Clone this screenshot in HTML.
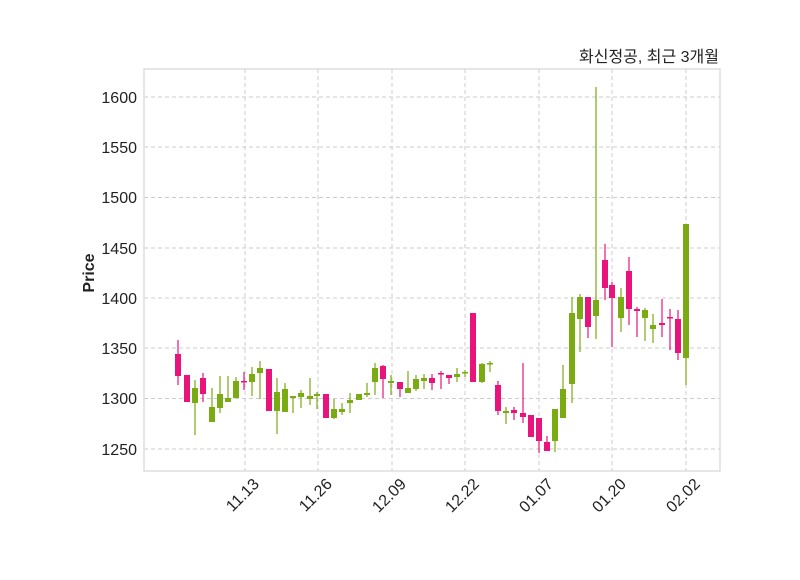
<!DOCTYPE html>
<html><head><meta charset="utf-8"><style>
html,body{margin:0;padding:0;background:#fff;}
svg text{font-family:"Liberation Sans","Noto Sans CJK KR",sans-serif;fill:#222;}
</style></head><body>
<svg width="800" height="575" viewBox="0 0 800 575" xmlns="http://www.w3.org/2000/svg">
<rect width="800" height="575" fill="#fff"/>
<g stroke="#cccccc" stroke-width="1" stroke-dasharray="4,3">
<line x1="144" x2="720" y1="97" y2="97"/><line x1="144" x2="720" y1="147" y2="147"/>
<line x1="144" x2="720" y1="197.5" y2="197.5"/><line x1="144" x2="720" y1="248" y2="248"/>
<line x1="144" x2="720" y1="298" y2="298"/><line x1="144" x2="720" y1="348" y2="348"/>
<line x1="144" x2="720" y1="398.5" y2="398.5"/><line x1="144" x2="720" y1="449" y2="449"/>
<line y1="69" y2="471" x1="245" x2="245"/><line y1="69" y2="471" x1="318" x2="318"/>
<line y1="69" y2="471" x1="392" x2="392"/><line y1="69" y2="471" x1="465" x2="465"/>
<line y1="69" y2="471" x1="539" x2="539"/><line y1="69" y2="471" x1="612" x2="612"/>
<line y1="69" y2="471" x1="686" x2="686"/>
</g>
<rect x="144" y="69" width="576" height="402" fill="none" stroke="#dddddd" stroke-width="1.5"/>
<g font-size="16" text-anchor="end">
<text x="137" y="103">1600</text><text x="137" y="153">1550</text><text x="137" y="203">1500</text>
<text x="137" y="254">1450</text><text x="137" y="304">1400</text><text x="137" y="354">1350</text>
<text x="137" y="404">1300</text><text x="137" y="455">1250</text>
</g>
<g font-size="16" text-anchor="end">
<text transform="translate(260,485) rotate(-45)">11.13</text>
<text transform="translate(333,485) rotate(-45)">11.26</text>
<text transform="translate(407,485) rotate(-45)">12.09</text>
<text transform="translate(480,485) rotate(-45)">12.22</text>
<text transform="translate(554,485) rotate(-45)">01.07</text>
<text transform="translate(627,485) rotate(-45)">01.20</text>
<text transform="translate(701,485) rotate(-45)">02.02</text>
</g>
<text transform="translate(94,273) rotate(-90)" font-size="16" font-weight="bold" text-anchor="middle">Price</text>
<text x="719" y="62" font-size="16" text-anchor="end">화신정공, 최근 3개월</text>
<g stroke="#e8137b" stroke-width="1.2">
<line x1="178" x2="178" y1="340" y2="385"/>
<line x1="187" x2="187" y1="375" y2="402"/>
<line x1="203" x2="203" y1="373" y2="402"/>
<line x1="244" x2="244" y1="372" y2="390"/>
<line x1="269" x2="269" y1="369" y2="411"/>
<line x1="326" x2="326" y1="394" y2="418"/>
<line x1="383" x2="383" y1="365" y2="398"/>
<line x1="400" x2="400" y1="382" y2="397"/>
<line x1="432" x2="432" y1="374" y2="390"/>
<line x1="441" x2="441" y1="371" y2="389"/>
<line x1="449" x2="449" y1="375" y2="384"/>
<line x1="473" x2="473" y1="313" y2="382"/>
<line x1="498" x2="498" y1="381" y2="415"/>
<line x1="514" x2="514" y1="407" y2="420"/>
<line x1="523" x2="523" y1="363" y2="423"/>
<line x1="531" x2="531" y1="415" y2="437"/>
<line x1="539" x2="539" y1="418" y2="453"/>
<line x1="547" x2="547" y1="436" y2="451"/>
<line x1="588" x2="588" y1="297" y2="338"/>
<line x1="605" x2="605" y1="244" y2="300"/>
<line x1="612" x2="612" y1="282" y2="347"/>
<line x1="629" x2="629" y1="257" y2="325"/>
<line x1="637" x2="637" y1="307" y2="337"/>
<line x1="662" x2="662" y1="299" y2="337"/>
<line x1="670" x2="670" y1="309" y2="350"/>
<line x1="678" x2="678" y1="310" y2="360"/>
</g>
<g fill="#e8137b">
<rect x="175" y="354" width="6" height="22"/>
<rect x="184" y="375" width="6" height="27"/>
<rect x="200" y="378" width="6" height="16"/>
<rect x="241" y="381" width="6" height="1.5"/>
<rect x="266" y="369" width="6" height="42"/>
<rect x="323" y="394" width="6" height="24"/>
<rect x="380" y="366" width="6" height="13"/>
<rect x="397" y="382" width="6" height="7"/>
<rect x="429" y="378" width="6" height="5"/>
<rect x="438" y="373" width="6" height="1.5"/>
<rect x="446" y="375" width="6" height="3"/>
<rect x="470" y="313" width="6" height="69"/>
<rect x="495" y="385" width="6" height="26"/>
<rect x="511" y="410" width="6" height="3"/>
<rect x="520" y="413" width="6" height="4"/>
<rect x="528" y="415" width="6" height="22"/>
<rect x="536" y="418" width="6" height="23"/>
<rect x="544" y="442" width="6" height="9"/>
<rect x="585" y="297" width="6" height="30"/>
<rect x="602" y="260" width="6" height="28"/>
<rect x="609" y="285" width="6" height="13"/>
<rect x="626" y="271" width="6" height="38"/>
<rect x="634" y="309" width="6" height="2"/>
<rect x="659" y="323" width="6" height="2"/>
<rect x="667" y="317" width="6" height="1.5"/>
<rect x="675" y="319" width="6" height="34"/>
</g>
<g stroke="#7aab12" stroke-width="1.2">
<line x1="195" x2="195" y1="380" y2="435"/>
<line x1="212" x2="212" y1="388" y2="422"/>
<line x1="220" x2="220" y1="376" y2="413"/>
<line x1="228" x2="228" y1="376" y2="402"/>
<line x1="236" x2="236" y1="377" y2="398"/>
<line x1="252" x2="252" y1="367" y2="396"/>
<line x1="260" x2="260" y1="361" y2="399"/>
<line x1="277" x2="277" y1="378" y2="434"/>
<line x1="285" x2="285" y1="383" y2="412"/>
<line x1="293" x2="293" y1="396" y2="413"/>
<line x1="301" x2="301" y1="390" y2="408"/>
<line x1="310" x2="310" y1="378" y2="405"/>
<line x1="317" x2="317" y1="392" y2="409"/>
<line x1="334" x2="334" y1="399" y2="419"/>
<line x1="342" x2="342" y1="403" y2="415"/>
<line x1="350" x2="350" y1="393" y2="413"/>
<line x1="359" x2="359" y1="394" y2="400"/>
<line x1="367" x2="367" y1="383" y2="397"/>
<line x1="375" x2="375" y1="363" y2="395"/>
<line x1="391" x2="391" y1="375" y2="395"/>
<line x1="408" x2="408" y1="371" y2="393"/>
<line x1="416" x2="416" y1="375" y2="391"/>
<line x1="424" x2="424" y1="374" y2="389"/>
<line x1="457" x2="457" y1="368" y2="382"/>
<line x1="465" x2="465" y1="370" y2="377"/>
<line x1="482" x2="482" y1="363" y2="383"/>
<line x1="490" x2="490" y1="361" y2="372"/>
<line x1="506" x2="506" y1="407" y2="424"/>
<line x1="555" x2="555" y1="409" y2="452"/>
<line x1="563" x2="563" y1="365" y2="418"/>
<line x1="572" x2="572" y1="297" y2="403"/>
<line x1="580" x2="580" y1="294" y2="352"/>
<line x1="596" x2="596" y1="87" y2="339"/>
<line x1="621" x2="621" y1="288" y2="332"/>
<line x1="645" x2="645" y1="308" y2="341"/>
<line x1="653" x2="653" y1="314" y2="343"/>
<line x1="686" x2="686" y1="224" y2="385"/>
</g>
<g fill="#7aab12">
<rect x="192" y="388" width="6" height="15"/>
<rect x="209" y="407" width="6" height="15"/>
<rect x="217" y="394" width="6" height="14"/>
<rect x="225" y="398" width="6" height="4"/>
<rect x="233" y="381" width="6" height="17"/>
<rect x="249" y="374" width="6" height="8"/>
<rect x="257" y="368" width="6" height="5"/>
<rect x="274" y="392" width="6" height="19"/>
<rect x="282" y="389" width="6" height="23"/>
<rect x="290" y="396" width="6" height="2"/>
<rect x="298" y="393" width="6" height="4"/>
<rect x="307" y="396" width="6" height="3"/>
<rect x="314" y="394" width="6" height="2"/>
<rect x="331" y="409" width="6" height="9"/>
<rect x="339" y="409" width="6" height="3"/>
<rect x="347" y="400" width="6" height="3"/>
<rect x="356" y="394" width="6" height="6"/>
<rect x="364" y="393" width="6" height="2"/>
<rect x="372" y="368" width="6" height="14"/>
<rect x="388" y="381" width="6" height="2"/>
<rect x="405" y="388" width="6" height="5"/>
<rect x="413" y="379" width="6" height="10"/>
<rect x="421" y="378" width="6" height="3"/>
<rect x="454" y="374" width="6" height="3"/>
<rect x="462" y="372" width="6" height="1.5"/>
<rect x="479" y="364" width="6" height="18"/>
<rect x="487" y="363" width="6" height="1.5"/>
<rect x="503" y="411" width="6" height="2"/>
<rect x="552" y="409" width="6" height="32"/>
<rect x="560" y="389" width="6" height="29"/>
<rect x="569" y="313" width="6" height="71"/>
<rect x="577" y="297" width="6" height="22"/>
<rect x="593" y="300" width="6" height="16"/>
<rect x="618" y="297" width="6" height="21"/>
<rect x="642" y="310" width="6" height="8"/>
<rect x="650" y="325" width="6" height="4"/>
<rect x="683" y="224" width="6" height="134"/>
</g>
</svg>
</body></html>
